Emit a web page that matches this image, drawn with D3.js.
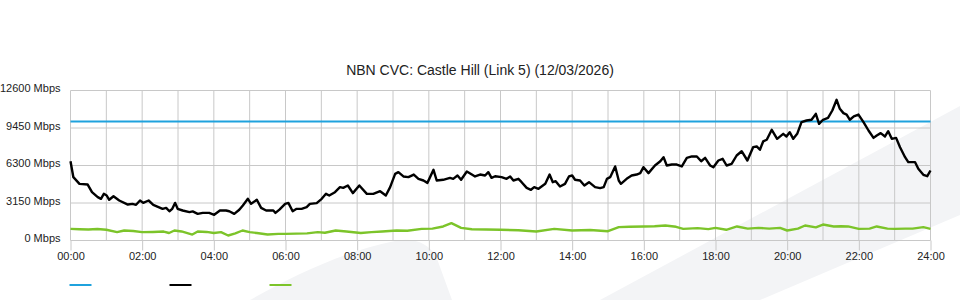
<!DOCTYPE html>
<html><head><meta charset="utf-8">
<script src="https://cdn.jsdelivr.net/npm/d3@7"></script>
<style>
body{margin:0;background:#fff}
svg{display:block;font-family:"Liberation Sans",Arial,sans-serif}
</style>
</head><body>
<svg id="chart" width="960" height="300"></svg>
<script>
const title = "NBN CVC: Castle Hill (Link 5) (12/03/2026)";
const yTicks = [0, 3150, 6300, 9450, 12600];
const xTickHours = [0, 2, 4, 6, 8, 10, 12, 14, 16, 18, 20, 22, 24];
const xTickLabels = ["00:00","02:00","04:00","06:00","08:00","10:00","12:00","14:00","16:00","18:00","20:00","22:00","24:00"];
const seriesColors = ["#1fa2dd", "#000000", "#7cc42a"];

const capacityHours = [0, 24];
const capacityValues = [10000, 10000];

const downloadHours = [0.00,0.08,0.25,0.48,0.60,0.76,0.85,0.93,1.01,1.08,1.20,1.36,1.60,1.73,1.83,1.94,2.03,2.18,2.31,2.57,2.67,2.76,2.84,2.92,2.99,3.13,3.32,3.41,3.55,3.69,3.87,4.01,4.17,4.34,4.43,4.57,4.71,4.81,4.95,5.04,5.20,5.32,5.46,5.66,5.72,5.83,5.99,6.08,6.20,6.31,6.45,6.59,6.68,6.87,7.01,7.13,7.22,7.38,7.52,7.61,7.74,7.88,8.06,8.27,8.45,8.64,8.80,8.92,9.06,9.15,9.29,9.43,9.58,9.71,9.85,9.96,10.13,10.22,10.40,10.59,10.68,10.80,10.90,11.06,11.20,11.29,11.43,11.57,11.66,11.75,11.85,12.03,12.17,12.27,12.36,12.50,12.59,12.73,12.85,12.94,13.06,13.25,13.37,13.46,13.54,13.66,13.80,13.91,14.00,14.08,14.22,14.34,14.47,14.64,14.78,14.88,14.97,15.06,15.20,15.30,15.36,15.52,15.66,15.80,15.90,15.99,16.13,16.31,16.46,16.55,16.64,16.78,16.92,17.06,17.20,17.34,17.48,17.60,17.71,17.85,17.94,18.08,18.20,18.31,18.45,18.59,18.73,18.89,19.05,19.15,19.24,19.33,19.43,19.57,19.72,19.89,19.98,20.07,20.17,20.28,20.40,20.54,20.68,20.80,20.89,21.00,21.14,21.26,21.38,21.47,21.57,21.66,21.75,21.86,21.99,22.13,22.27,22.41,22.50,22.61,22.73,22.82,22.92,23.04,23.15,23.29,23.38,23.57,23.66,23.80,23.91,24.00];
const downloadValues = [6660,5320,4760,4700,4060,3640,3500,3920,3780,3420,3720,3360,3020,3080,3000,3360,3160,3360,3000,2660,2740,2460,2660,3160,2660,2520,2380,2440,2240,2320,2320,2160,2520,2520,2460,2240,2580,2940,3500,3080,3420,2740,2520,2520,2320,2600,3080,3160,2460,2660,2660,2800,3080,3140,3500,3920,3780,4060,4480,4420,4620,3980,4620,3920,3920,4140,3780,4480,5600,5740,5380,5320,5540,5180,5040,4840,5940,5040,5100,5260,5180,5460,5100,5800,5540,5380,5540,5460,5740,5260,5400,5320,5180,5380,5040,5180,4900,4420,4260,4480,4340,4760,5540,4900,4980,4540,4760,5380,5460,5100,5040,4620,4900,4480,4400,4480,5180,5320,6220,5040,4760,5180,5460,5540,5660,6160,5660,6300,6660,7000,6300,6380,6380,6220,6940,7060,7060,6660,6940,6300,6160,6720,6860,6300,6440,7140,7500,6720,7840,7900,7620,8320,8460,9300,8540,8960,8740,9100,8540,8960,9940,10080,10140,10640,9800,10140,10300,10920,11820,11060,10700,10580,10140,10420,10580,9940,9240,8620,8820,9020,8740,9180,8540,8620,7840,7000,6580,6580,6020,5520,5400,5880];

const uploadHours = [0,0.25,0.5,0.75,1.0,1.3,1.5,1.75,2.0,2.3,2.6,2.75,2.9,3.1,3.4,3.55,3.8,4.0,4.2,4.4,4.6,4.8,5.0,5.2,5.5,5.8,6.0,6.3,6.6,6.9,7.1,7.4,7.7,8.1,8.4,8.7,9.1,9.4,9.8,10.1,10.4,10.63,10.9,11.2,11.6,12.0,12.5,13.0,13.5,14.0,14.5,15.0,15.3,15.6,16.0,16.3,16.6,16.9,17.1,17.5,17.8,18.0,18.3,18.6,18.9,19.2,19.5,19.8,20.0,20.3,20.5,20.8,21.0,21.3,21.5,21.7,22.0,22.3,22.5,22.8,23.0,23.3,23.5,23.8,24.0];
const uploadValues = [980,950,930,960,900,700,840,800,700,720,750,630,840,760,500,750,720,630,700,420,600,840,700,630,500,560,560,580,600,700,650,840,760,630,700,760,840,820,980,1000,1180,1460,1060,950,920,900,860,760,980,840,880,780,1120,1150,1180,1200,1260,1150,980,1040,960,1060,900,1180,1000,1060,1000,1060,840,1000,1260,1100,1340,1180,1200,1180,980,1000,1180,1000,980,1000,1000,1120,980];

const svg = d3.select("#chart");
const x = d3.scaleLinear().domain([0, 24]).range([70.5, 930.5]);
const y = d3.scaleLinear().domain([0, 12600]).range([240.5, 90.5]);

// faint background watermark
const wm = svg.append("g").attr("fill", "#f3f4f6");
wm.append("path").attr("d", "M250,300 C290,278 340,252 395,241 C415,237 428,244 436,256 L452,300 Z");
wm.append("path").attr("d", "M600,300 L960,106 L960,215 L760,300 Z");

// grid
const grid = svg.append("g").attr("stroke", "#c8c8c8").attr("stroke-width", 1);
grid.selectAll("line.v").data(d3.range(0, 25)).join("line")
  .attr("x1", d => x(d)).attr("x2", d => x(d))
  .attr("y1", y(12600)).attr("y2", y(0));
grid.selectAll("line.h").data(yTicks).join("line")
  .attr("x1", x(0)).attr("x2", x(24))
  .attr("y1", d => y(d)).attr("y2", d => y(d));

// x axis
const xa = svg.append("g").attr("transform", `translate(0,${y(0)})`)
  .call(d3.axisBottom(x).tickValues(xTickHours).tickFormat((d, i) => xTickLabels[i]).tickSize(10).tickPadding(2));
xa.select(".domain").remove();
xa.selectAll(".tick line").attr("stroke", "#c8c8c8");
xa.selectAll("text").attr("font-size", 11).attr("fill", "#222").attr("font-family", '"Liberation Sans",Arial,sans-serif');

// y axis
const ya = svg.append("g").attr("transform", `translate(${x(0)},0)`)
  .call(d3.axisLeft(y).tickValues(yTicks).tickFormat(d => d + " Mbps").tickSize(0).tickPadding(10));
ya.select(".domain").remove();
ya.selectAll("text").attr("font-size", 11).attr("fill", "#222").attr("dy", "0.1em")
  .attr("font-family", '"Liberation Sans",Arial,sans-serif');

// title
svg.append("text").attr("x", 480).attr("y", 75).attr("text-anchor", "middle")
  .attr("font-size", 14).attr("fill", "#222").text(title);

// series
const line = d3.line().x(d => x(d[0])).y(d => y(d[1]));
const series = [
  d3.zip(capacityHours, capacityValues),
  d3.zip(downloadHours, downloadValues),
  d3.zip(uploadHours, uploadValues)
];
const widths = [2, 2.4, 2.4];
const order = [2, 0, 1];
order.forEach(i => {
  svg.append("path").datum(series[i]).attr("fill", "none")
    .attr("stroke", seriesColors[i]).attr("stroke-width", widths[i])
    .attr("stroke-linejoin", "round").attr("d", line);
});

// legend
const lg = svg.append("g");
lg.selectAll("line").data(seriesColors).join("line")
  .attr("x1", (d, i) => 69.5 + i * 100).attr("x2", (d, i) => 91.5 + i * 100)
  .attr("y1", 285).attr("y2", 285)
  .attr("stroke", d => d).attr("stroke-width", 2);
</script>
</body></html>
